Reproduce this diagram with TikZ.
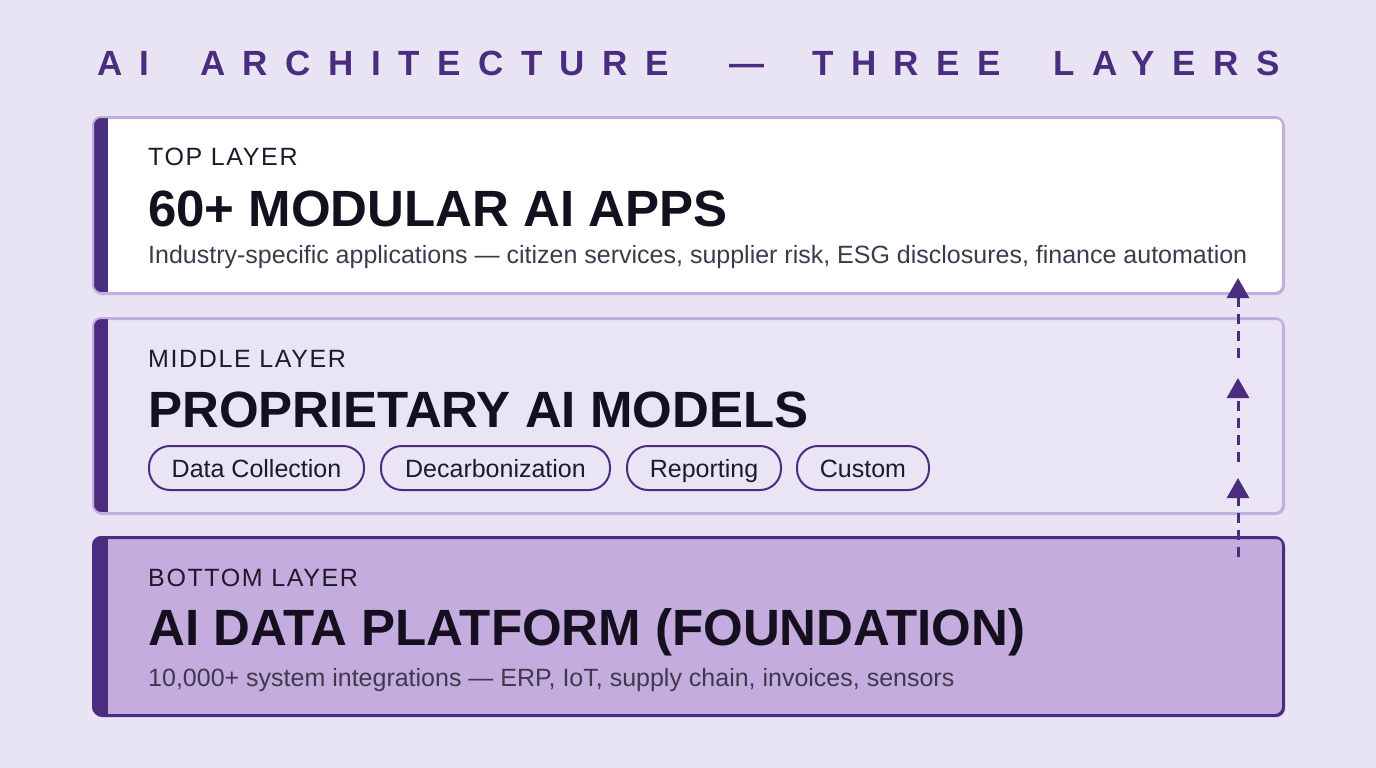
\documentclass[tikz,border=0pt]{standalone}
\usepackage{fontspec}
\setmainfont{Liberation Sans}
\newfontfamily\titlefont[LetterSpace=50]{Liberation Sans}
\newfontfamily\capfont[LetterSpace=6.5]{Liberation Sans}
\usetikzlibrary{arrows.meta}
\definecolor{bg}{HTML}{E9E4F4}
\definecolor{dpurple}{HTML}{4A2D7E}
\definecolor{lborder}{HTML}{C2AEDF}
\definecolor{midfill}{HTML}{EAE5F5}
\definecolor{botfill}{HTML}{C4ACDE}
\definecolor{ink}{HTML}{15101F}
\definecolor{subink}{HTML}{1E1A2A}
\definecolor{desc}{HTML}{3E3A4C}
\tikzset{
  titleword/.style={anchor=base west, inner sep=0pt, text=dpurple, font=\titlefont\bfseries\fontsize{35}{35}\selectfont},
  layerbox/.style={rounded corners=8pt, line width=2pt, minimum width=1190pt, anchor=north west, inner sep=0pt},
  smallcap/.style={anchor=base west, inner sep=0pt, text=subink, font=\capfont\fontsize{25}{25}\selectfont},
  heading/.style={anchor=base west, inner sep=0pt, text=ink, font=\bfseries\fontsize{51}{51}\selectfont},
  descr/.style={anchor=base west, inner sep=0pt, text=desc, font=\fontsize{25}{25}\selectfont},
  pill/.style={draw=dpurple, line width=2pt, rounded corners=21pt, minimum height=44pt, inner sep=0pt, text height=20pt, text depth=2pt, text=subink, font=\fontsize{25}{25}\selectfont, anchor=west},
  uparrow/.style={draw=dpurple, line width=3pt, dash pattern=on 10pt off 7pt, -{Triangle[length=20pt,width=22pt]}}
}
\begin{document}
\begin{tikzpicture}[x=1pt,y=-1pt]
\fill[bg] (0,0) rectangle (1376,768);
\useasboundingbox (0,0) rectangle (1376,768);
\node[titleword] (t1) at (97,75) {AI};
\node[titleword] (t2) at (200,75) {ARCHITECTURE};
\node[titleword] (t3) at (729,75) {—};
\node[titleword] (t4) at (812,75) {THREE};
\node[titleword] (t5) at (1053,75) {LAYERS};
% top
\node[layerbox, fill=white, draw=lborder, minimum height=176pt] (top) at (93,117) {};
\begin{scope}
\clip[rounded corners=8pt] (93,117) rectangle (1283,293);
\fill[dpurple] (93,117) rectangle (108,293);
\end{scope}
\draw[rounded corners=8pt, line width=2pt, draw=lborder] (93,117) rectangle (1283,293);
\node[smallcap] (toplab) at (148,165) {TOP LAYER};
\node[heading] (tophead) at (148,226) {60+ MODULAR AI APPS};
\node[descr] (topdesc) at (148,263) {Industry-specific applications — citizen services, supplier risk, ESG disclosures, finance automation};
% middle
\node[layerbox, fill=midfill, draw=lborder, minimum height=195pt] (mid) at (93,318) {};
\begin{scope}
\clip[rounded corners=8pt] (93,318) rectangle (1283,513);
\fill[dpurple] (93,318) rectangle (108,513);
\end{scope}
\draw[rounded corners=8pt, line width=2pt, draw=lborder] (93,318) rectangle (1283,513);
\node[smallcap] (midlab) at (148,367) {MIDDLE LAYER};
\node[heading] (midhead) at (148,427) {PROPRIETARY AI MODELS};
\node[pill, minimum width=215pt] (p1) at (148,468) {Data Collection};
\node[pill, minimum width=229pt] (p2) at (380,468) {Decarbonization};
\node[pill, minimum width=154pt] (p3) at (626,468) {Reporting};
\node[pill, minimum width=132pt] (p4) at (796,468) {Custom};
% bottom
\node[layerbox, fill=botfill, draw=dpurple, minimum height=178pt] (bot) at (93,537) {};
\begin{scope}
\clip[rounded corners=8pt] (93,537) rectangle (1283,715);
\fill[dpurple] (93,537) rectangle (108,715);
\end{scope}
\draw[rounded corners=8pt, line width=2pt, draw=dpurple] (93,537) rectangle (1283,715);
\node[smallcap] (botlab) at (148,586) {BOTTOM LAYER};
\node[heading] (bothead) at (148,645) {AI DATA PLATFORM (FOUNDATION)};
\node[descr] (botdesc) at (148,686) {10,000+ system integrations — ERP, IoT, supply chain, invoices, sensors};
% arrows
\coordinate (a1s) at (1238,557);
\coordinate (a1e) at (1238,478);
\coordinate (a2s) at (1238,462);
\coordinate (a2e) at (1238,378);
\coordinate (a3s) at (1238,358);
\coordinate (a3e) at (1238,278);
\draw[uparrow] (a1s) -- (a1e);
\draw[uparrow] (a2s) -- (a2e);
\draw[uparrow] (a3s) -- (a3e);
\end{tikzpicture}
\end{document}
